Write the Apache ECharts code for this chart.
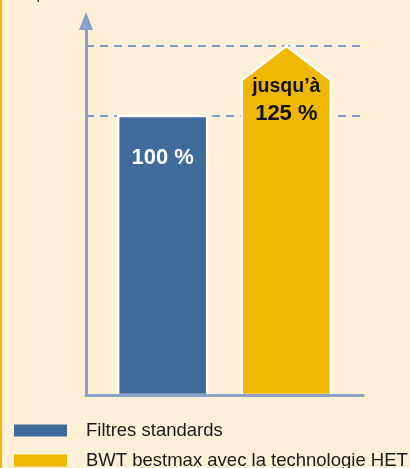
<!DOCTYPE html>
<html>
<head>
<meta charset="utf-8">
<script src="https://cdn.jsdelivr.net/npm/echarts@6/dist/echarts.min.js"></script>
<style>
  html, body { margin: 0; padding: 0; background: #fdf0d6; }
  #main { width: 410px; height: 468px; }
</style>
</head>
<body>
<div id="main"></div>
<script>
const categories = ['Filtres standards', 'BWT bestmax avec la technologie HET']
const values = [100, 125]
const valueLabels = ['100\u00a0%', '125\u00a0%']
const prefixLabel = 'jusqu\u2019à'
const colors = ['#416b9b', '#f0b700']

const font = '"Liberation Sans", Arial, Helvetica, sans-serif'
const chart = echarts.init(document.getElementById('main'))

// bar (or house shape for the second one) drawn from data through the axes
function renderBar(params, api) {
  const idx = api.value(0)
  const base = api.coord([idx, 0])
  const top = api.coord([idx, api.value(1)])
  const half = api.size([0.72, 0])[0] / 2
  const x = base[0]
  const style = { fill: colors[idx], stroke: '#fff', lineWidth: 2.5 }
  let shape, texts
  if (idx === 0) {
    shape = {
      type: 'rect',
      shape: { x: x - half, y: top[1], width: half * 2, height: base[1] - top[1] },
      style: style
    }
    texts = [{
      type: 'text',
      style: { text: valueLabels[idx], x: x, y: top[1] + 42, fill: '#fff',
        font: 'bold 22px ' + font, align: 'center', verticalAlign: 'middle' }
    }]
  } else {
    const shoulder = top[1] + 34
    shape = {
      type: 'polygon',
      shape: { points: [[x - half, base[1]], [x - half, shoulder], [x, top[1]], [x + half, shoulder], [x + half, base[1]]] },
      style: style
    }
    texts = [{
      type: 'text',
      style: { text: prefixLabel, x: x, y: top[1] + 41, fill: '#111',
        font: 'bold 19.5px ' + font, align: 'center', verticalAlign: 'middle' }
    }, {
      type: 'text',
      style: { text: valueLabels[idx], x: x, y: top[1] + 68, fill: '#111',
        font: 'bold 22px ' + font, align: 'center', verticalAlign: 'middle' }
    }]
  }
  return { type: 'group', children: [shape].concat(texts) }
}

// one legend per row so nothing wraps
const legends = categories.map((name, i) => ({
  left: 9,
  top: 416 + i * 30,
  itemWidth: 53,
  itemHeight: 12,
  icon: 'rect',
  itemStyle: { borderWidth: 0 },
  textStyle: { fontFamily: font, fontSize: 18.5, color: '#1a1a1a', padding: [0, 0, 0, 14] },
  data: [name]
}))

const option = {
  backgroundColor: '#fdf0d6',
  animation: false,
  grid: { left: 86, right: 47, top: 21, bottom: 73 },
  xAxis: {
    type: 'value',
    min: -0.62,
    max: 1.62,
    z: 10,
    axisLine: { show: true, onZero: false, lineStyle: { color: '#8aa2c8', width: 3 } },
    axisTick: { show: false },
    axisLabel: { show: false },
    splitLine: { show: false }
  },
  yAxis: {
    type: 'value',
    min: 0,
    max: 134,
    z: 10,
    axisLine: {
      show: true, onZero: false,
      symbol: ['none', 'triangle'], symbolSize: [14, 18],
      lineStyle: { color: '#8aa2c8', width: 3 }
    },
    axisTick: { show: false },
    axisLabel: { show: false },
    splitLine: { show: false }
  },
  legend: legends,
  graphic: [
    { type: 'rect', left: 0, top: 0, shape: { width: 2, height: 468 }, style: { fill: '#f2b705' } },
    { type: 'text', left: 16, top: -13, style: { text: 'Capacité de filtration', font: '16px ' + font, fill: '#333' } }
  ],
  series: [
    {
      type: 'line',
      z: 1,
      data: [],
      markLine: {
        z: 1,
        silent: true,
        symbol: 'none',
        label: { show: false },
        lineStyle: { color: '#7e9cc8', width: 2, type: [8, 6] },
        data: values.map(v => ({ yAxis: v }))
      }
    }
  ].concat(categories.map((name, i) => ({
    name: name,
    type: 'custom',
    z: 3,
    itemStyle: { color: colors[i] },
    encode: { x: 0, y: 1 },
    data: [[i, values[i]]],
    renderItem: renderBar
  })))
}

chart.setOption(option)
</script>
</body>
</html>
